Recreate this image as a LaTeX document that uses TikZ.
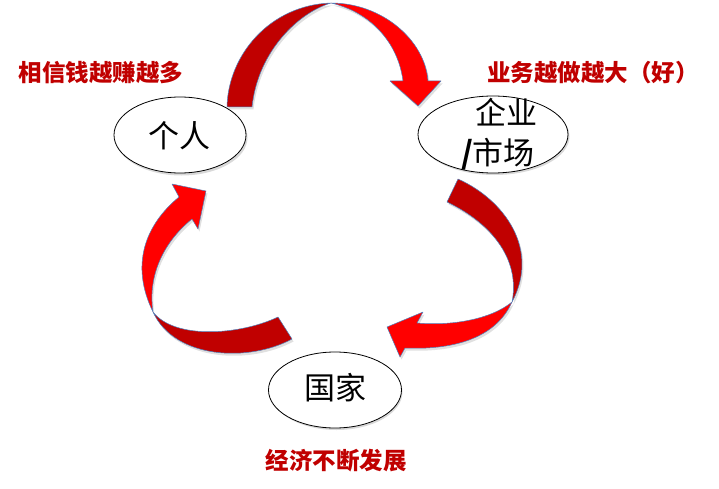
\documentclass[tikz,border=0pt]{standalone}
\usepackage{fontspec}
\newfontfamily\cjk{Noto Sans CJK SC}
\usetikzlibrary{shapes.geometric}
\definecolor{darkarrow}{RGB}{192,0,0}
\definecolor{brightarrow}{RGB}{255,0,0}
\definecolor{edgeblue}{RGB}{79,129,189}
\definecolor{labelred}{RGB}{192,0,0}
\tikzset{
  actor/.style={ellipse, draw=black, line width=0.8pt, fill=white, inner sep=0pt},
  actortext/.style={font=\cjk\fontsize{31}{40}\selectfont, inner sep=0pt, align=center, text=black},
  redlabel/.style={font=\cjk\bfseries\fontsize{23.5}{28}\selectfont, text=labelred, inner sep=0pt},
  darkpart/.style={fill=darkarrow, draw=edgeblue, line width=0.5pt, line join=round},
  brightpart/.style={fill=brightarrow, draw=edgeblue, line width=0.5pt, line join=round},
  shade/.style={fill=black, opacity=0.12, draw=none}
}
\begin{document}
\begin{tikzpicture}[x=1pt, y=-1pt]
\useasboundingbox (0,0) rectangle (719,489);

% ---------- shadows of arrows ----------
\begin{scope}[shift={(1.5,2.5)}]
\fill[shade] (227,107) .. controls (228,55) and (270,5) .. (331,3)
  .. controls (382,3) and (425,40) .. (428,81) -- (441,81) -- (418,106) -- (390,81) -- (403,81)
  .. controls (398,42) and (370,12) .. (331,3)
  .. controls (300,12) and (258,50) .. (252,107) -- cycle;
\fill[shade] (458,179) .. controls (505,200) and (540,250) .. (512,302)
  .. controls (495,340) and (450,350) .. (405,348) -- (400,357) -- (387,327) -- (423,312) -- (417,323)
  .. controls (450,326) and (490,320) .. (512,302)
  .. controls (520,262) and (495,225) .. (447,202) -- cycle;
\fill[shade] (292,339) .. controls (250,362) and (175,360) .. (153,312)
  .. controls (130,265) and (145,225) .. (179,197) -- (172,184) -- (206,191) -- (198,229) -- (192,219)
  .. controls (160,245) and (148,280) .. (153,312)
  .. controls (175,340) and (240,335) .. (278,317) -- cycle;
\end{scope}

% ---------- top arrow: person -> firm ----------
\draw[darkpart] (227,107) .. controls (228,55) and (270,5) .. (331,3)
  .. controls (300,12) and (258,50) .. (252,107) -- cycle;
\draw[brightpart] (331,3) .. controls (382,3) and (425,40) .. (428,81)
  -- (441,81) -- (418,106) -- (390,81) -- (403,81)
  .. controls (398,42) and (370,12) .. (331,3) -- cycle;

% ---------- right arrow: firm -> state ----------
\draw[darkpart] (458,179) .. controls (505,200) and (540,250) .. (512,302)
  .. controls (520,262) and (495,225) .. (447,202) -- cycle;
\draw[brightpart] (512,302) .. controls (495,340) and (450,350) .. (405,348)
  -- (400,357) -- (387,327) -- (423,312) -- (417,323)
  .. controls (450,326) and (490,320) .. (512,302) -- cycle;

% ---------- left arrow: state -> person ----------
\draw[darkpart] (292,339) .. controls (250,362) and (175,360) .. (153,312)
  .. controls (175,340) and (240,335) .. (278,317) -- cycle;
\draw[brightpart] (153,312) .. controls (130,265) and (145,225) .. (179,197)
  -- (172,184) -- (206,191) -- (198,229) -- (192,219)
  .. controls (160,245) and (148,280) .. (153,312) -- cycle;

% ---------- ellipses ----------
\fill[black, opacity=0.15] (181.5,137.5) ellipse [x radius=66pt, y radius=38pt];
\fill[black, opacity=0.15] (494.5,136.5) ellipse [x radius=75pt, y radius=38.5pt];
\fill[black, opacity=0.15] (336.5,392) ellipse [x radius=66pt, y radius=38pt];

\node[actor, minimum width=132pt, minimum height=76pt] (person) at (180,135) {};
\node[actor, minimum width=150pt, minimum height=77pt] (firm) at (493,134.5) {};
\node[actor, minimum width=133pt, minimum height=76pt] (state) at (335,390) {};

\node[actortext] (persontext) at (179,136) {个人};
\node[actortext] (firmtext) at (498,134) {\hspace*{0.55em}企业\\{\bfseries/}市场};
\node[actortext] (statetext) at (335,388) {国家};

% ---------- red labels ----------
\node[redlabel] (lab1) at (101,73) {相信钱越赚越多};
\node[redlabel] (lab2) at (593,73) {业务越做越大（好）};
\node[redlabel] (lab3) at (336,461) {经济不断发展};
\end{tikzpicture}
\end{document}
